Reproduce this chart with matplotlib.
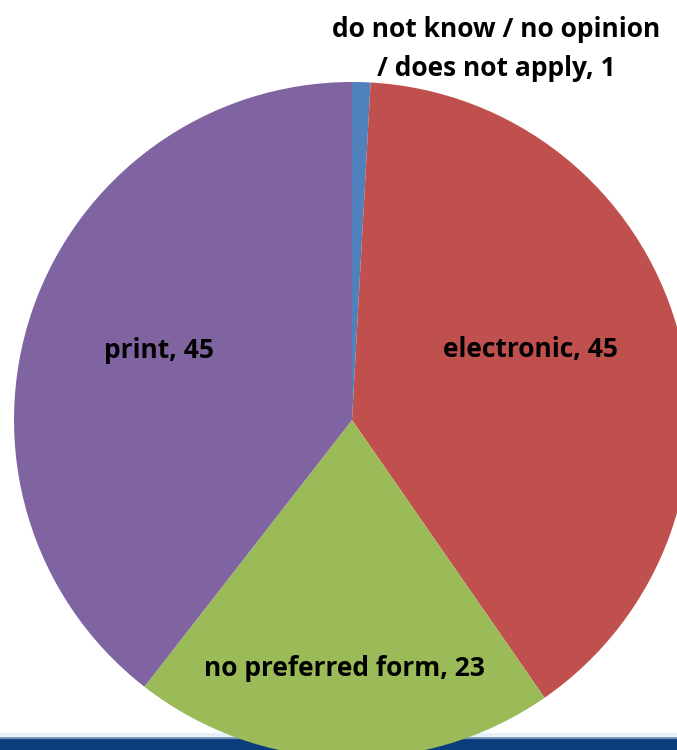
import numpy as np
import matplotlib.pyplot as plt
from matplotlib.patches import Rectangle

categories = ['do not know / no opinion\n/ does not apply', 'electronic',
              'no preferred form', 'print']
counts = [1, 45, 23, 45]
colors = ['#4F81BD', '#C0504D', '#9BBB59', '#8064A2']

W, H = 677, 750
cx, cy, R = 352, 420, 338  # pie centre and radius in pixels

def px(x, y):
    # pixel position (from top-left) -> data units of the pie axes
    return (x - cx) / R, (cy - y) / R

fig = plt.figure(figsize=(W / 100, H / 100), dpi=100)

# footer band of the slide
fig.patches.append(Rectangle((0, 0), 1, 12 / H, transform=fig.transFigure,
                             color='#0B3C7C', zorder=0))
fig.patches.append(Rectangle((0, 12 / H), 1, 2 / H, transform=fig.transFigure,
                             color='#6E8FB5', zorder=0))
fig.patches.append(Rectangle((0, 14 / H), 1, 3 / H, transform=fig.transFigure,
                             color='#E8F1F8', zorder=0))

ax = fig.add_axes([0, 0, 1, 1])
ax.set_zorder(2)
ax.patch.set_alpha(0)
ax.pie(counts, colors=colors, startangle=90, counterclock=False, radius=1,
       wedgeprops=dict(linewidth=0))
ax.set_xlim(-cx / R, (W - cx) / R)
ax.set_ylim(-(H - cy) / R, cy / R)
ax.set_aspect('equal')
ax.axis('off')

font = dict(family=['Open Sans', 'DejaVu Sans'], fontweight='bold',
            fontsize=19, color='black', ha='center', va='center')
label_px = [(496, 49), (531, 350), (344, 668), (159, 350)]
for name, n, (x, y) in zip(categories, counts, label_px):
    ax.text(*px(x, y), f'{name}, {n}', linespacing=1.55, **font)

fig.savefig('out.png', dpi=100)
